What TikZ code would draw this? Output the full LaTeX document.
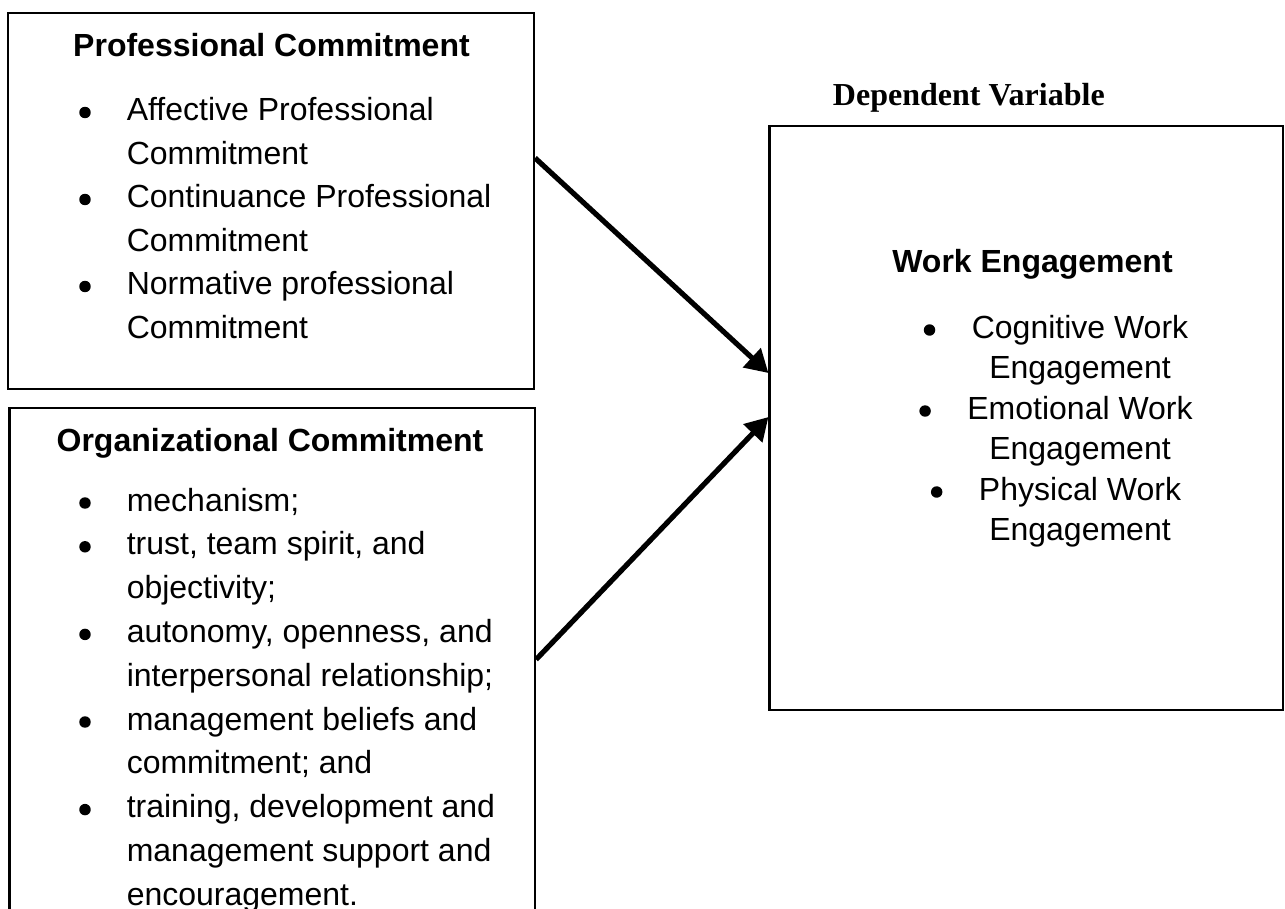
\documentclass[tikz,border=0pt]{standalone}
\usepackage{fontspec}
\setmainfont{Liberation Sans}
\newfontfamily\headserif{Liberation Serif}
\usetikzlibrary{arrows.meta,calc,fit}

\begin{document}
\begin{tikzpicture}[
  x=0.75pt, y=-0.75pt,
  box/.style={draw=black, line width=1.6pt, inner sep=0pt},
  body/.style={inner sep=0pt, anchor=base west,
    font={\fontsize{24pt}{28pt}\selectfont}},
  ctr/.style={body, anchor=base},
  head/.style={inner sep=0pt, anchor=base,
    font={\fontsize{24pt}{28pt}\selectfont\bfseries}},
  dvhead/.style={inner sep=0pt, anchor=base west,
    font={\fontsize{24pt}{28pt}\selectfont\headserif\bfseries}},
  dot/.style={circle, fill=black, inner sep=0pt, minimum size=8.6pt},
  arr/.style={line width=3.9pt, -{Triangle[length=17pt,width=19pt]}}
]
\useasboundingbox (0,0) rectangle (1285,908);
\clip (0,0) rectangle (1285,908);

% ---------- frames ----------
\node[box, fit={(8.3,12.7) (534,389)}] (pc) {};
\node[box, fit={(9.5,408) (535,940)}] (oc) {};
\node[box, fit={(769.5,126) (1283,710)}] (we) {};

% ---------- professional commitment ----------
\node[head] (pcT) at (271.5,56) {Professional Commitment};
\node[body] (pc1) at (126.5,120.5) {Affective Professional};
\node[body] (pc2) at (126.5,164) {Commitment};
\node[body] (pc3) at (126.5,207.5) {Continuance Professional};
\node[body] (pc4) at (126.5,251) {Commitment};
\node[body] (pc5) at (126.5,294.5) {Normative professional};
\node[body] (pc6) at (126.5,338) {Commitment};
\node[dot] (pcd1) at ($(pc1.base west)+(-41.5,-8)$) {};
\node[dot] (pcd3) at ($(pc3.base west)+(-41.5,-8)$) {};
\node[dot] (pcd5) at ($(pc5.base west)+(-41.5,-8)$) {};

% ---------- organizational commitment ----------
\node[head] (ocT) at (270,451) {Organizational Commitment};
\node[body] (oc1) at (126.5,511) {mechanism;};
\node[body] (oc2) at (126.5,554.8) {trust, team spirit, and};
\node[body] (oc3) at (126.5,598.6) {objectivity;};
\node[body] (oc4) at (126.5,642.4) {autonomy, openness, and};
\node[body] (oc5) at (126.5,686.2) {interpersonal relationship;};
\node[body] (oc6) at (126.5,730) {management beliefs and};
\node[body] (oc7) at (126.5,773.8) {commitment; and};
\node[body] (oc8) at (126.5,817.6) {training, development and};
\node[body] (oc9) at (126.5,861.4) {management support and};
\node[body] (oc10) at (126.5,905.2) {encouragement.};
\node[dot] (ocd1) at ($(oc1.base west)+(-41.5,-8)$) {};
\node[dot] (ocd2) at ($(oc2.base west)+(-41.5,-8)$) {};
\node[dot] (ocd4) at ($(oc4.base west)+(-41.5,-8)$) {};
\node[dot] (ocd6) at ($(oc6.base west)+(-41.5,-8)$) {};
\node[dot] (ocd8) at ($(oc8.base west)+(-41.5,-8)$) {};

% ---------- dependent variable ----------
\node[dvhead] (dv) at (832.7,105.5) {Dependent Variable};
\node[head] (weT) at (1032.5,272.5) {Work Engagement};
\node[ctr] (we1) at (1080,338) {Cognitive Work};
\node[ctr] (we2) at (1080,378.5) {Engagement};
\node[ctr] (we3) at (1080,419) {Emotional Work};
\node[ctr] (we4) at (1080,459.5) {Engagement};
\node[ctr] (we5) at (1080,500) {Physical Work};
\node[ctr] (we6) at (1080,540.5) {Engagement};
\node[dot] (wed1) at ($(we1.base west)+(-42,-8)$) {};
\node[dot] (wed3) at ($(we3.base west)+(-42,-8)$) {};
\node[dot] (wed5) at ($(we5.base west)+(-42,-8)$) {};

% ---------- links ----------
\draw[arr] (pc.east |- 0,158) -- (we.west |- 0,373);
\draw[arr] (oc.east |- 0,659.5) -- (we.west |- 0,417);
\end{tikzpicture}
\end{document}
